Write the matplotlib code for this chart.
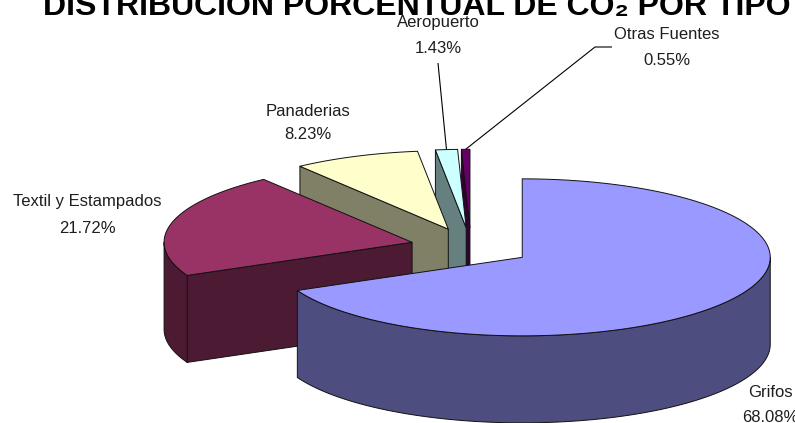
import numpy as np
import matplotlib
matplotlib.use("Agg")
import matplotlib.pyplot as plt
from matplotlib.patches import Polygon
from matplotlib.colors import to_rgb

# ---- data -------------------------------------------------------------
categories = ["Grifos", "Textil y Estampados", "Panaderias", "Aeropuerto", "Otras Fuentes"]
shares = [68.08, 21.72, 8.23, 1.43, 0.55]
top_colors = ["#9999FF", "#993366", "#FFFFCC", "#CCFFFF", "#660066"]

title = "DISTRIBUCION PORCENTUAL DE CO\u2082 POR TIPO"

# ---- canvas (pixel units, y pointing down) ----------------------------
W, H = 795, 423
fig = plt.figure(figsize=(W / 100, H / 100), dpi=100)
ax = fig.add_axes([0, 0, 1, 1])
ax.set_xlim(0, W)
ax.set_ylim(H, 0)
ax.axis("off")

plt.rcParams["font.family"] = ["Liberation Sans", "DejaVu Sans"]

# tilted disc geometry
CX, CY = 471, 247      # centre of the top face before exploding
RX, RY = 248, 78.5     # projected radii of the top ellipse
DEPTH = 87             # projected thickness
EXPLODE = 0.245        # explode distance, fraction of radius
EDGE = "#111111"
LW = 0.7

total = sum(shares)
spans = []
start = np.pi / 2
for v in shares:
    sweep = 2 * np.pi * v / total
    spans.append((start - sweep, start))   # counter-clockwise a1 -> a2
    start -= sweep


def shade(c, f=0.5):
    r, g, b = to_rgb(c)
    return (r * f, g * f, b * f)


def pt(a, r, z, ox, oy):
    return (CX + ox + RX * r * np.cos(a), CY + oy - RY * r * np.sin(a) + z)


slices = []
for i, (a1, a2) in enumerate(spans):
    m = 0.5 * (a1 + a2)
    ox = EXPLODE * RX * np.cos(m)
    oy = -EXPLODE * RY * np.sin(m)
    slices.append((i, a1, a2, ox, oy))

# paint back to front
order = sorted(slices, key=lambda s: s[4])
z = 2
for i, a1, a2, ox, oy in order:
    top = top_colors[i]
    side = shade(top)
    apex_t = pt(0, 0, 0, ox, oy)
    apex_b = pt(0, 0, DEPTH, ox, oy)
    polys = []
    # radial faces that turn towards the viewer
    if np.cos(a2) < 0:
        polys.append(([apex_t, pt(a2, 1, 0, ox, oy), pt(a2, 1, DEPTH, ox, oy), apex_b], side))
    if np.cos(a1) > 0:
        polys.append(([apex_t, pt(a1, 1, 0, ox, oy), pt(a1, 1, DEPTH, ox, oy), apex_b], side))
    # front part of the rim
    aa = np.linspace(a1, a2, 600)
    vis = np.sin(aa) < 0
    if vis.any():
        idx = np.where(vis)[0]
        runs = np.split(idx, np.where(np.diff(idx) > 1)[0] + 1)
        for run in runs:
            seg = aa[run]
            upper = [pt(a, 1, 0, ox, oy) for a in seg]
            lower = [pt(a, 1, DEPTH, ox, oy) for a in seg[::-1]]
            polys.append((upper + lower, side))
    for verts, col in polys:
        ax.add_patch(Polygon(verts, closed=True, facecolor=col, edgecolor=EDGE,
                             lw=LW, joinstyle="round", zorder=z))
    arc = [pt(a, 1, 0, ox, oy) for a in aa]
    ax.add_patch(Polygon([apex_t] + arc, closed=True, facecolor=top, edgecolor=EDGE,
                         lw=LW, joinstyle="round", zorder=z + 0.5))
    z += 1

# ---- labels -----------------------------------------------------------
TXT = "#1e1e1e"
FS = 12
label_pos = {
    "Grifos": (770, 397, 422),
    "Textil y Estampados": (87, 206, 233),
    "Panaderias": (308, 116, 139),
    "Aeropuerto": (438, 27, 53),
    "Otras Fuentes": (667, 39, 65),
}
for name, v in zip(categories, shares):
    x, y1, y2 = label_pos[name]
    ax.text(x, y1, name, ha="center", va="baseline", fontsize=FS, color=TXT, zorder=20)
    ax.text(x, y2, f"{v:.2f}%", ha="center", va="baseline", fontsize=FS, color=TXT, zorder=20)

# leader lines from label to the rim midpoint of the thin slices
leaders = {
    "Aeropuerto": [(438, 63)],
    "Otras Fuentes": [(612, 47), (595, 47)],
}
for i, a1, a2, ox, oy in slices:
    name = categories[i]
    if name in leaders:
        end = pt(0.5 * (a1 + a2), 1, 0, ox, oy)
        path = leaders[name] + [end]
        xs, ys = zip(*path)
        ax.plot(xs, ys, color="black", lw=0.8, zorder=21, solid_capstyle="butt")

ax.text(43, 15, title, ha="left", va="baseline", fontsize=23, fontweight="bold",
        color="black", zorder=22, clip_on=False)

fig.savefig("out.png", dpi=100)
